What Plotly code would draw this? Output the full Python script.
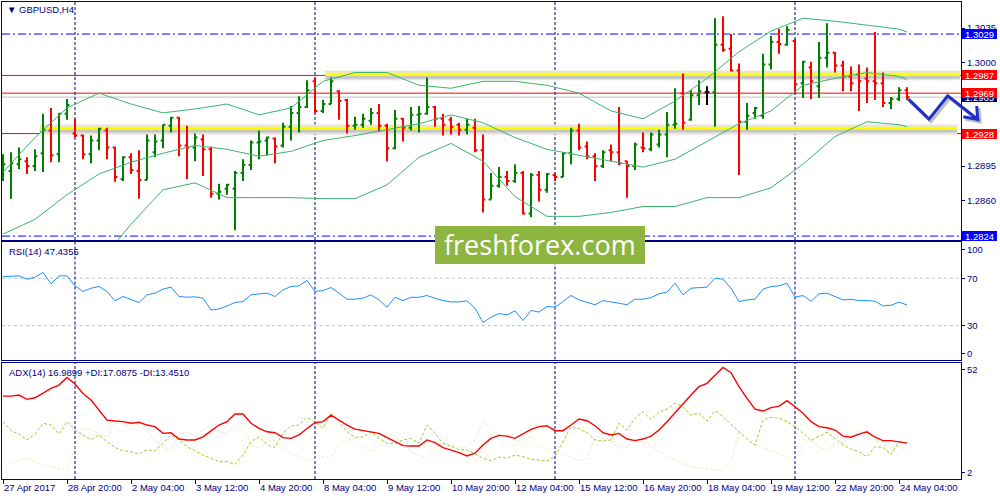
import plotly.graph_objects as go

# ---------------- data ----------------
symbol_title = "GBPUSD,H4"
rsi_title = "RSI(14) 47.4355"
adx_title = "ADX(14) 16.9899 +DI:17.0875 -DI:13.4510"

time_labels = ["27 Apr 2017", "28 Apr 20:00", "2 May 04:00", "3 May 12:00", "4 May 20:00",
               "8 May 04:00", "9 May 12:00", "10 May 20:00", "12 May 04:00", "15 May 12:00",
               "16 May 20:00", "18 May 04:00", "19 May 12:00", "22 May 20:00", "24 May 04:00"]
time_label_bars = [0, 8, 16, 24, 32, 40, 48, 56, 64, 72, 80, 88, 96, 104, 112]
week_start_bars = [9, 39, 69, 99]

open_ = [1.2894, 1.2890, 1.2897, 1.2900, 1.2895, 1.2908, 1.2931, 1.2907, 1.2948, 1.2928,
         1.2926, 1.2907, 1.2921, 1.2931, 1.2914, 1.2882, 1.2904, 1.2890, 1.2881, 1.2909,
         1.2921, 1.2936, 1.2944, 1.2916, 1.2914, 1.2922, 1.2912, 1.2867, 1.2872, 1.2872,
         1.2888, 1.2896, 1.2919, 1.2921, 1.2923, 1.2916, 1.2935, 1.2949, 1.2955, 1.2981,
         1.2951, 1.2958, 1.2971, 1.2962, 1.2936, 1.2937, 1.2941, 1.2949, 1.2936, 1.2913,
         1.2943, 1.2934, 1.2947, 1.2948, 1.2955, 1.2943, 1.2942, 1.2937, 1.2932, 1.2934,
         1.2911, 1.2861, 1.2875, 1.2884, 1.2880, 1.2888, 1.2847, 1.2886, 1.2871, 1.2886,
         1.2884, 1.2908, 1.2931, 1.2915, 1.2905, 1.2895, 1.2911, 1.2909, 1.2900, 1.2895,
         1.2914, 1.2912, 1.2917, 1.2927, 1.2937, 1.2969, 1.2942, 1.2967, 1.2970, 1.2970,
         1.3018, 1.3014, 1.2992, 1.2940, 1.2949, 1.2946, 1.2998, 1.3021, 1.3018, 1.3022,
         1.2979, 1.2995, 1.2976, 1.3005, 1.3010, 1.2997, 1.2986, 1.2988, 1.2984, 1.2981,
         1.2979, 1.2959, 1.2963, 1.2972]
high = [1.2907, 1.2909, 1.2914, 1.2904, 1.2912, 1.2948, 1.2954, 1.2949, 1.2963, 1.2943,
        1.2927, 1.2926, 1.2934, 1.2934, 1.2915, 1.2905, 1.2908, 1.2911, 1.2927, 1.2927,
        1.2937, 1.2945, 1.2945, 1.2936, 1.2928, 1.2927, 1.2915, 1.2877, 1.2877, 1.2890,
        1.2902, 1.2921, 1.2931, 1.2925, 1.2924, 1.2939, 1.2956, 1.2966, 1.2982, 1.2985,
        1.2962, 1.2985, 1.2972, 1.2963, 1.2945, 1.2948, 1.2954, 1.2958, 1.2938, 1.2952,
        1.2944, 1.2955, 1.2956, 1.2985, 1.2956, 1.2948, 1.2945, 1.2939, 1.2943, 1.2943,
        1.2927, 1.2888, 1.2894, 1.2890, 1.2897, 1.2890, 1.2888, 1.2890, 1.2888, 1.2888,
        1.2909, 1.2934, 1.2938, 1.2920, 1.2908, 1.2911, 1.2917, 1.2955, 1.2900, 1.2919,
        1.2929, 1.2929, 1.2932, 1.2950, 1.2974, 1.2989, 1.2972, 1.2982, 1.2976, 1.3045,
        1.3047, 1.3029, 1.2999, 1.2959, 1.2955, 1.3009, 1.3027, 1.3034, 1.3037, 1.3024,
        1.3002, 1.3001, 1.3021, 1.3040, 1.3011, 1.3002, 1.2996, 1.2998, 1.2995, 1.3031,
        1.2990, 1.2965, 1.2975, 1.2975]
low = [1.2880, 1.2862, 1.2892, 1.2887, 1.2890, 1.2889, 1.2899, 1.2899, 1.2942, 1.2924,
       1.2902, 1.2898, 1.2911, 1.2902, 1.2879, 1.2880, 1.2887, 1.2862, 1.2881, 1.2904,
       1.2913, 1.2929, 1.2905, 1.2882, 1.2900, 1.2885, 1.2863, 1.2861, 1.2866, 1.2830,
       1.2880, 1.2891, 1.2902, 1.2906, 1.2898, 1.2914, 1.2921, 1.2929, 1.2954, 1.2949,
       1.2949, 1.2958, 1.2942, 1.2928, 1.2932, 1.2934, 1.2937, 1.2930, 1.2900, 1.2912,
       1.2920, 1.2931, 1.2929, 1.2947, 1.2935, 1.2926, 1.2927, 1.2926, 1.2927, 1.2909,
       1.2848, 1.2861, 1.2873, 1.2875, 1.2878, 1.2846, 1.2843, 1.2859, 1.2868, 1.2880,
       1.2884, 1.2897, 1.2911, 1.2902, 1.2880, 1.2893, 1.2900, 1.2896, 1.2863, 1.2891,
       1.2909, 1.2910, 1.2914, 1.2904, 1.2933, 1.2932, 1.2941, 1.2957, 1.2957, 1.2935,
       1.3011, 1.2991, 1.2886, 1.2932, 1.2943, 1.2943, 1.2993, 1.3009, 1.3017, 1.2969,
       1.2964, 1.2963, 1.2964, 1.2995, 1.2990, 1.2971, 1.2971, 1.2951, 1.2959, 1.2962,
       1.2955, 1.2953, 1.2961, 1.2962]
close = [1.2897, 1.2898, 1.2902, 1.2895, 1.2905, 1.2932, 1.2906, 1.2948, 1.2957, 1.2926,
         1.2907, 1.2921, 1.2933, 1.2914, 1.2884, 1.2904, 1.2891, 1.2881, 1.2921, 1.2920,
         1.2937, 1.2944, 1.2916, 1.2914, 1.2924, 1.2912, 1.2867, 1.2869, 1.2876, 1.2888,
         1.2896, 1.2919, 1.2920, 1.2924, 1.2915, 1.2935, 1.2949, 1.2955, 1.2972, 1.2951,
         1.2958, 1.2981, 1.2961, 1.2936, 1.2937, 1.2943, 1.2949, 1.2936, 1.2913, 1.2943,
         1.2934, 1.2947, 1.2948, 1.2955, 1.2943, 1.2937, 1.2935, 1.2932, 1.2937, 1.2911,
         1.2861, 1.2875, 1.2884, 1.2880, 1.2888, 1.2847, 1.2886, 1.2871, 1.2887, 1.2884,
         1.2908, 1.2931, 1.2914, 1.2905, 1.2895, 1.2909, 1.2909, 1.2898, 1.2895, 1.2917,
         1.2913, 1.2927, 1.2927, 1.2937, 1.2938, 1.2939, 1.2967, 1.2971, 1.2970, 1.3018,
         1.3013, 1.2992, 1.2940, 1.2946, 1.2954, 1.2998, 1.3021, 1.3019, 1.3033, 1.2978,
         1.3001, 1.2981, 1.3005, 1.3010, 1.2997, 1.2986, 1.2979, 1.2981, 1.2981, 1.2979,
         1.2959, 1.2963, 1.2972, 1.2965]

# Bollinger bands, read at every 4th bar
band_bars = [0, 4, 8, 12, 16, 20, 24, 28, 32, 36, 40, 44, 48, 52, 56, 60, 64, 68, 72, 76,
             80, 84, 88, 92, 96, 100, 104, 108, 112, 113]
bb_upper = [1.2889, 1.2924, 1.2954, 1.2969, 1.2958, 1.2949, 1.2953, 1.2958, 1.2947, 1.2954,
            1.2981, 1.2990, 1.2990, 1.2977, 1.2974, 1.2981, 1.2981, 1.2977, 1.2969, 1.2951,
            1.2943, 1.2961, 1.2984, 1.3011, 1.3032, 1.3045, 1.3042, 1.3038, 1.3034, 1.3031]
bb_middle = [1.2826, 1.2841, 1.2866, 1.2887, 1.2899, 1.2908, 1.2916, 1.2912, 1.2905, 1.2910,
             1.2921, 1.2926, 1.2932, 1.2938, 1.2947, 1.2939, 1.2924, 1.2912, 1.2906, 1.2900,
             1.2894, 1.2902, 1.2920, 1.2938, 1.2951, 1.2977, 1.2984, 1.2990, 1.2986, 1.2983]
lower_band_bars = band_bars[3:]
bb_lower = [1.2797, 1.2836, 1.2871, 1.2878, 1.2863, 1.2863, 1.2863, 1.2862, 1.2862,
            1.2876, 1.2904, 1.2918, 1.2900, 1.2864, 1.2844, 1.2844, 1.2848, 1.2854, 1.2854,
            1.2863, 1.2863, 1.2873, 1.2897, 1.2925, 1.2940, 1.2937, 1.2935]

rsi = [71.4, 71.7, 72.0, 69.2, 70.9, 74.9, 65.3, 72.0, 72.0, 63.6,
       58.8, 61.6, 63.0, 58.8, 50.9, 54.6, 52.3, 49.5, 56.0, 57.4,
       60.8, 62.5, 54.6, 54.0, 54.3, 53.1, 43.2, 44.0, 46.6, 49.5,
       50.3, 56.0, 56.8, 57.4, 54.6, 60.2, 63.0, 63.6, 68.1, 58.8,
       59.6, 62.2, 57.4, 52.3, 52.3, 53.2, 56.0, 51.7, 45.5, 53.9,
       51.1, 53.9, 53.9, 55.4, 53.1, 51.1, 50.0, 50.0, 50.9, 44.7,
       32.6, 37.1, 40.2, 39.1, 42.5, 34.3, 42.8, 41.4, 46.2, 45.6,
       50.3, 55.4, 51.7, 49.5, 47.6, 51.1, 50.3, 48.9, 47.6, 52.3,
       52.3, 53.7, 56.8, 58.2, 65.8, 56.0, 61.6, 62.2, 62.5, 70.0,
       69.2, 61.6, 50.3, 51.7, 52.3, 60.8, 63.0, 63.6, 65.8, 54.0,
       55.4, 50.6, 56.8, 57.4, 54.6, 51.7, 52.3, 51.1, 51.1, 50.6,
       46.6, 47.2, 49.8, 47.4]
rsi_levels = [70, 30]

adx = [37.8, 37.8, 38.3, 36.4, 37.1, 39.3, 41.2, 42.7, 46.1, 43.2,
       39.0, 36.1, 31.6, 27.2, 26.8, 26.5, 25.8, 26.2, 25.0, 24.3,
       21.3, 21.6, 18.8, 18.4, 18.4, 19.8, 22.4, 25.0, 26.5, 29.9,
       29.9, 25.8, 23.5, 22.0, 21.6, 19.4, 19.1, 20.6, 23.5, 26.0,
       26.5, 29.4, 27.2, 25.0, 23.2, 22.5, 22.0, 21.3, 19.4, 17.6,
       15.9, 15.7, 15.7, 18.4, 17.2, 15.0, 14.0, 12.8, 11.3, 12.5,
       16.2, 19.1, 20.4, 20.1, 19.1, 21.0, 23.1, 24.3, 24.7, 22.5,
       22.5, 25.0, 27.7, 26.9, 24.7, 21.6, 20.6, 21.3, 18.8, 18.1,
       18.8, 20.1, 22.8, 26.5, 30.5, 34.6, 38.3, 42.0, 43.5, 47.1,
       50.5, 48.2, 42.0, 36.8, 32.0, 31.2, 32.7, 33.4, 35.8, 33.1,
       30.2, 26.5, 24.3, 23.8, 22.8, 20.1, 19.6, 21.0, 22.0, 19.6,
       18.1, 18.1, 17.6, 17.0]
plus_di = [26.5, 22.5, 21.0, 18.4, 21.0, 25.8, 25.0, 21.0, 26.5, 22.8,
           20.6, 18.4, 20.6, 17.6, 15.1, 13.6, 13.2, 12.2, 14.0, 13.6,
           16.9, 20.6, 18.4, 15.4, 13.6, 11.7, 10.3, 8.8, 8.8, 7.6,
           11.7, 17.6, 19.8, 16.2, 15.1, 21.6, 24.6, 25.0, 28.4, 26.5,
           23.5, 30.2, 26.5, 22.0, 19.6, 19.6, 22.0, 19.1, 16.9, 16.9,
           18.4, 19.1, 16.9, 25.0, 21.3, 16.9, 15.7, 14.0, 14.0, 12.2,
           10.3, 9.2, 10.8, 10.3, 11.7, 11.0, 9.8, 9.5, 9.1, 11.0,
           17.6, 24.3, 23.5, 21.6, 18.4, 17.9, 18.4, 25.8, 22.8, 28.0,
           30.9, 27.5, 30.9, 32.0, 34.6, 33.1, 29.4, 30.2, 26.8, 31.3,
           28.7, 25.5, 22.0, 18.7, 16.2, 27.2, 28.4, 28.0, 26.5, 24.3,
           21.3, 18.1, 20.1, 21.8, 19.1, 16.2, 14.3, 13.2, 11.0, 15.4,
           15.1, 12.0, 17.6, 17.1]
minus_di = [5.1, 8.1, 9.5, 10.3, 8.8, 7.3, 6.6, 5.8, 5.1, 15.4,
            23.5, 23.1, 20.6, 19.8, 26.0, 25.8, 23.5, 25.8, 22.0, 18.4,
            15.4, 13.6, 21.0, 22.0, 20.1, 23.1, 24.3, 22.0, 21.3, 25.0,
            22.0, 16.9, 14.7, 17.6, 18.4, 14.7, 12.5, 11.0, 9.5, 10.0,
            11.0, 10.3, 16.2, 18.4, 19.1, 15.7, 13.2, 16.2, 22.0, 19.8,
            16.2, 13.2, 11.7, 10.7, 15.1, 16.9, 16.2, 15.1, 15.4, 18.4,
            26.0, 23.5, 20.6, 20.1, 18.4, 16.9, 20.1, 16.2, 14.0, 12.5,
            12.2, 11.0, 9.5, 9.8, 20.1, 19.1, 18.7, 14.7, 15.1, 19.1,
            17.6, 15.7, 13.2, 11.0, 9.5, 7.8, 6.6, 5.8, 5.8, 5.1,
            5.1, 8.8, 22.0, 19.8, 16.5, 14.7, 13.6, 12.5, 10.3, 9.5,
            15.7, 18.4, 15.1, 14.0, 16.2, 17.6, 19.8, 22.8, 21.3, 18.4,
            16.2, 15.1, 15.7, 13.5]

price_ticks = [1.3035, 1.3000, 1.2965, 1.2930, 1.2895, 1.2860]
hidden_price_ticks = [1.2965, 1.2930]   # covered by the price boxes in the reference
blue_levels = [1.3029, 1.2824]
red_levels = [1.2987, 1.2969, 1.2928]
bid_price = 1.2965
# drawn zones: (start bar, end bar, bottom, top)
upper_zone = (40.25, 119.6, 1.29867, 1.29897)
lower_zone = (4.6, 119.25, 1.29321, 1.29349)
# hand-drawn forecast arrow: (bar, price)
arrow_pts = [(113.16, 1.29630), (115.75, 1.29427), (118.09, 1.29664), (121.84, 1.29424)]
arrow_head = [(120.04, 1.29451), (121.84, 1.29424), (121.71, 1.29559)]
watermark = "freshforex.com"

# ---------------- styling ----------------
NAVY = "#000080"
FONT = "Liberation Sans"
FS = 9.5
X_RANGE = [-0.125, 119.75]
MAIN_RANGE = [1.2820, 1.30615]
RSI_RANGE = [1.4, 100.6]
ADX_RANGE = [1.1, 52.7]
MAIN_DOM = [0.5010, 1.0]
RSI_DOM = [0.2505, 0.4969]
ADX_DOM = [0.0, 0.2442]

bars = list(range(len(close)))
fig = go.Figure()

shapes = []
for (x0, x1, lo, hi) in [upper_zone, lower_zone]:
    shapes.append(dict(type="rect", xref="x", yref="y", x0=x0, x1=x1, y0=lo - 0.00047, y1=hi + 0.00023,
                       fillcolor="#e4e4e4", line_width=0, layer="below"))
    shapes.append(dict(type="rect", xref="x", yref="y", x0=x0, x1=x1, y0=lo - 0.00030, y1=lo,
                       fillcolor="#c6c6c6", line_width=0, layer="below"))
    shapes.append(dict(type="rect", xref="x", yref="y", x0=x0, x1=x1, y0=lo, y1=hi,
                       fillcolor="#ffff00", line_width=0, layer="below"))
shapes.append(dict(type="line", xref="x domain", yref="y", x0=0, x1=1, y0=bid_price, y1=bid_price,
                   line=dict(color="#c0c0c0", width=1), layer="below"))
for lv in red_levels:
    shapes.append(dict(type="line", xref="x domain", yref="y", x0=0, x1=1, y0=lv, y1=lv,
                       line=dict(color="#ff0000", width=1), layer="below"))
for lv in blue_levels:
    shapes.append(dict(type="line", xref="x domain", yref="y", x0=0, x1=1, y0=lv, y1=lv,
                       line=dict(color="#0000ff", width=1, dash="8px,3px,2px,3px"), layer="below"))
for lv in rsi_levels:
    shapes.append(dict(type="line", xref="x2 domain", yref="y2", x0=0, x1=1, y0=lv, y1=lv,
                       line=dict(color="#c0c0c0", width=1, dash="3px,3px"), layer="below"))
for b in week_start_bars:
    for xr, yr in [("x", "y domain"), ("x2", "y2 domain"), ("x3", "y3 domain")]:
        shapes.append(dict(type="line", xref=xr, yref=yr, x0=b, x1=b, y0=0, y1=1,
                           line=dict(color=NAVY, width=1, dash="3px,2px"), layer="below"))


def to_paper(b, p):
    xp = (b - X_RANGE[0]) / (X_RANGE[1] - X_RANGE[0])
    yp = MAIN_DOM[0] + (p - MAIN_RANGE[0]) / (MAIN_RANGE[1] - MAIN_RANGE[0]) * (MAIN_DOM[1] - MAIN_DOM[0])
    return xp, yp


def path_of(pts, dx=0.0, dy=0.0):
    s = ""
    for i, (b, p) in enumerate(pts):
        xp, yp = to_paper(b, p)
        s += ("M" if i == 0 else "L") + f"{xp + dx:.5f},{yp + dy:.5f} "
    return s.strip()


sx, sy = 2 / 959, -2 / 477
for pts in [arrow_pts, arrow_head]:
    shapes.append(dict(type="path", xref="paper", yref="paper", path=path_of(pts, sx, sy),
                       line=dict(color="rgba(120,120,120,0.45)", width=4), layer="above"))
for pts in [arrow_pts, arrow_head]:
    shapes.append(dict(type="path", xref="paper", yref="paper", path=path_of(pts),
                       line=dict(color="#1f30c8", width=3), layer="above"))

shapes.append(dict(type="rect", xref="paper", yref="paper", x0=0.4515, x1=0.6705, y0=0.4507, y1=0.5304,
                   fillcolor="#8db53f", line_width=0, layer="above"))

# ---------------- traces ----------------
nd = [i for i in bars if open_[i] != close[i]]
dj = [i for i in bars if open_[i] == close[i]]
fig.add_trace(go.Ohlc(x=nd, open=[open_[i] for i in nd], high=[high[i] for i in nd],
                      low=[low[i] for i in nd], close=[close[i] for i in nd],
                      increasing=dict(line=dict(color="#008000", width=2)),
                      decreasing=dict(line=dict(color="#ff0000", width=2)),
                      tickwidth=0.3, xaxis="x", yaxis="y", hoverinfo="skip", showlegend=False))
if dj:
    fig.add_trace(go.Ohlc(x=dj, open=[open_[i] for i in dj], high=[high[i] for i in dj],
                          low=[low[i] for i in dj], close=[close[i] for i in dj],
                          increasing=dict(line=dict(color="#000000", width=2)),
                          decreasing=dict(line=dict(color="#000000", width=2)),
                          tickwidth=0.3, xaxis="x", yaxis="y", hoverinfo="skip", showlegend=False))

for xs, ys in [(band_bars, bb_upper), (band_bars, bb_middle), (lower_band_bars, bb_lower)]:
    fig.add_trace(go.Scatter(x=xs, y=ys, mode="lines", line=dict(color="#3cb371", width=1),
                             xaxis="x", yaxis="y", hoverinfo="skip", showlegend=False))

fig.add_trace(go.Scatter(x=bars, y=rsi, mode="lines", line=dict(color="#1e90ff", width=1),
                         xaxis="x2", yaxis="y2", hoverinfo="skip", showlegend=False))

fig.add_trace(go.Scatter(x=bars, y=minus_di, mode="lines", line=dict(color="#f5deb3", width=1, dash="2px,2px"),
                         xaxis="x3", yaxis="y3", hoverinfo="skip", showlegend=False))
fig.add_trace(go.Scatter(x=bars, y=plus_di, mode="lines", line=dict(color="#9acd32", width=1, dash="3px,2px"),
                         xaxis="x3", yaxis="y3", hoverinfo="skip", showlegend=False))
fig.add_trace(go.Scatter(x=bars, y=adx, mode="lines", line=dict(color="#ff0000", width=1.4),
                         xaxis="x3", yaxis="y3", hoverinfo="skip", showlegend=False))

# ---------------- annotations ----------------
tf = dict(family=FONT, size=FS, color=NAVY)
ann = []
ann.append(dict(xref="paper", yref="paper", x=3 / 959, y=(479 - 10) / 477, xanchor="left", yanchor="middle",
                text="\u25BC " + symbol_title, showarrow=False, font=tf))
ann.append(dict(xref="paper", yref="paper", x=5 / 959, y=(479 - 251) / 477, xanchor="left", yanchor="middle",
                text=rsi_title, showarrow=False, font=tf))
ann.append(dict(xref="paper", yref="paper", x=5 / 959, y=(479 - 372) / 477, xanchor="left", yanchor="middle",
                text=adx_title, showarrow=False, font=tf))

box_font = dict(family=FONT, size=FS, color="#ffffff")
price_boxes = [(bid_price, "#000080"), (blue_levels[0], "#0000ff"), (blue_levels[1], "#0000ff"),
               (red_levels[0], "#ff0000"), (red_levels[1], "#ff0000"), (red_levels[2], "#ff0000")]
for val, col in price_boxes:
    ann.append(dict(xref="paper", yref="y", x=1.0, y=val, xanchor="left", yanchor="middle",
                    text=f"{val:.4f}", showarrow=False, font=box_font, bgcolor=col,
                    width=35, height=10, borderpad=0, borderwidth=0, align="center", xshift=1))

ann.append(dict(xref="paper", yref="paper", x=0.561, y=0.4906, xanchor="center", yanchor="middle",
                text=watermark, showarrow=False, font=dict(family="Open Sans", size=27, color="#ffffff")))

# ---------------- layout ----------------
axis_common = dict(showgrid=False, zeroline=False, showline=True, mirror=True, linecolor=NAVY,
                   linewidth=1, automargin=False)

price_ticktext = ["" if v in hidden_price_ticks else f"{v:.4f}" for v in price_ticks]

fig.update_layout(
    width=1000, height=500,
    margin=dict(l=2, r=39, t=2, b=21, autoexpand=False),
    paper_bgcolor="white", plot_bgcolor="white",
    hovermode=False, showlegend=False,
    shapes=shapes, annotations=ann,
    xaxis=dict(domain=[0, 1], range=X_RANGE, anchor="y", showticklabels=False, ticks="",
               rangeslider=dict(visible=False), **axis_common),
    xaxis2=dict(domain=[0, 1], range=X_RANGE, anchor="y2", matches="x", showticklabels=False, ticks="",
                **axis_common),
    xaxis3=dict(domain=[0, 1], range=X_RANGE, anchor="y3", matches="x",
                tickmode="array", tickvals=time_label_bars, ticktext=time_labels, tickangle=0,
                ticks="outside", ticklen=4, tickcolor=NAVY, ticklabelposition="outside right",
                tickfont=tf, **axis_common),
    yaxis=dict(domain=MAIN_DOM, range=MAIN_RANGE, anchor="x", side="right",
               tickmode="array", tickvals=price_ticks, ticktext=price_ticktext,
               ticks="outside", ticklen=3, tickcolor=NAVY, tickfont=tf, **axis_common),
    yaxis2=dict(domain=RSI_DOM, range=RSI_RANGE, anchor="x2", side="right",
                tickmode="array", tickvals=[94.4, 70, 30, 6.6], ticktext=["100", "70", "30", "0"],
                ticks="outside", ticklen=3, tickcolor=NAVY, tickfont=tf, **axis_common),
    yaxis3=dict(domain=ADX_DOM, range=ADX_RANGE, anchor="x3", side="right",
                tickmode="array", tickvals=[49.7, 4.1], ticktext=["52", "2"],
                ticks="outside", ticklen=3, tickcolor=NAVY, tickfont=tf, **axis_common),
)

fig.write_html("out.html", config={"displayModeBar": False},
               post_script="document.body.style.margin='0';document.body.style.overflow='hidden';")
